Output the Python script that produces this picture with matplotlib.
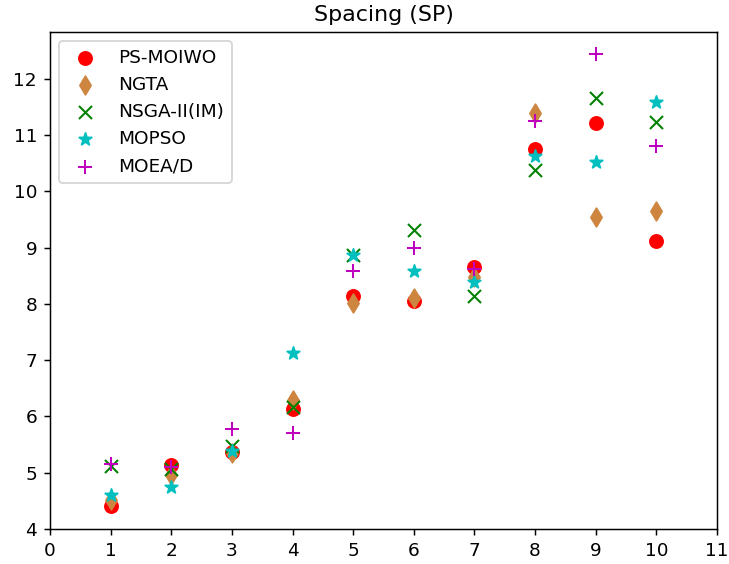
import matplotlib
matplotlib.use("Agg")
import matplotlib.pyplot as plt

x = [1, 2, 3, 4, 5, 6, 7, 8, 9, 10]
ps_moiwo = [4.41, 5.14, 5.37, 6.13, 8.14, 8.05, 8.66, 10.76, 11.21, 9.12]
ngta = [4.52, 4.96, 5.35, 6.29, 8.02, 8.10, 8.48, 11.40, 9.55, 9.65]
nsga = [5.12, 5.07, 5.47, 6.16, 8.87, 9.32, 8.14, 10.38, 11.66, 11.24]
mopso = [4.60, 4.75, 5.39, 7.13, 8.87, 8.59, 8.39, 10.63, 10.53, 11.59]
moead = [5.16, 5.10, 5.77, 5.71, 8.59, 9.00, 8.62, 11.25, 12.44, 10.80]

DPI = 133
fig = plt.figure(figsize=(729/DPI, 564/DPI), dpi=DPI)
ax = fig.add_axes([50/729, 35/564, 667/729, 497/564])

ax.scatter(x, ps_moiwo, marker='o', color='red', s=50, label='PS-MOIWO')
ax.scatter(x, ngta, marker='d', color='#CD853F', s=50, label='NGTA')
ax.scatter(x, nsga, marker='x', color='green', s=50, linewidths=1.1, label='NSGA-II(IM)')
ax.scatter(x, mopso, marker='*', color='c', s=50, label='MOPSO')
ax.scatter(x, moead, marker='+', color='m', s=50, linewidths=1.1, label='MOEA/D')

ax.set_xlim(0, 11)
ax.set_ylim(4, 12.835)
ax.set_xticks(range(0, 12))
ax.set_yticks(range(4, 13))
ax.set_title('Spacing (SP)')
ax.legend(loc='upper left')

fig.savefig('out.png', dpi=DPI)
